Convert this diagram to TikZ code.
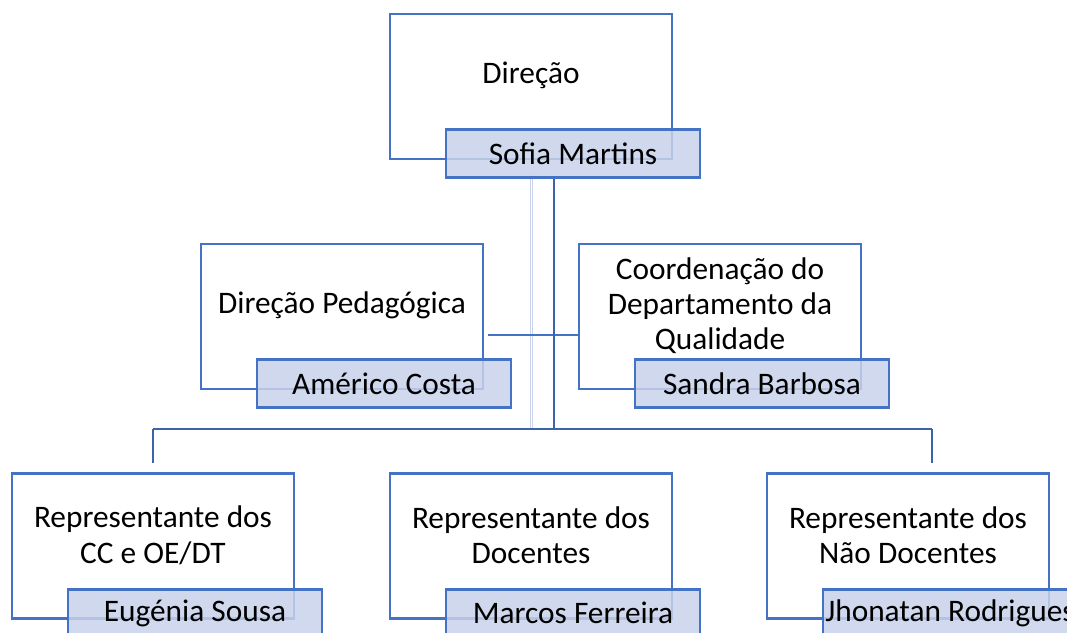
\documentclass[tikz,border=0pt]{standalone}
\usepackage{fontspec}
\setmainfont{Carlito}
\usetikzlibrary{positioning}
\definecolor{orgblue}{HTML}{4472C4}
\definecolor{linkblue}{HTML}{3C63AC}
\definecolor{namefill}{HTML}{C8D2EA}
\definecolor{ghostblue}{HTML}{C9D3EA}
\tikzstyle{rolebox}=[rectangle,draw=orgblue,line width=2pt,fill=white,minimum width=211.5pt,minimum height=108.75pt,inner sep=0]
\tikzstyle{roletext}=[align=center,inner sep=0]
\tikzstyle{namebox}=[rectangle,draw=orgblue,line width=2pt,fill=namefill,fill opacity=0.85,text opacity=1,minimum width=190.5pt,minimum height=36pt,inner sep=0,anchor=north west,xshift=42pt,yshift=24pt]
\tikzstyle{link}=[linkblue,line width=2pt]
\tikzstyle{thinlink}=[orgblue,line width=1.2pt]
\tikzstyle{ghost}=[ghostblue,double=white,line width=0.8pt,double distance=0.8pt]

\begin{document}
\begin{tikzpicture}[x=0.75pt,y=-0.75pt,font=\fontsize{23.5pt}{26.5pt}\selectfont]
\useasboundingbox (0,0) rectangle (1067,632);

% connectors
\coordinate (bustop) at (554,429);
\coordinate (busL) at (153,429);
\coordinate (busR) at (932,429);
\coordinate (dropL) at (153,463);
\coordinate (dropR) at (932,463);
\coordinate (asst) at (554,335);
\coordinate (ghostT) at (531.5,175);
\coordinate (ghostB) at (531.5,429);
\draw[ghost] (ghostT) -- (ghostB);

% boxes
\node[rolebox] (dir) at (531,86.5) {};
\node[rolebox] (ped) at (342,316.5) {};
\node[rolebox] (qual) at (720,316.5) {};
\node[rolebox] (repcc) at (153,546) {};
\node[rolebox] (doc) at (531,546) {};
\node[rolebox] (naodoc) at (908,546) {};

\draw[link] (busL) -- (busR);
\draw[link] (busL) -- (dropL);
\draw[link] (busR) -- (dropR);
\draw[thinlink] ([xshift=3pt]ped.east |- asst) -- (qual.west |- asst);

\node[roletext] (dirtext) at ([yshift=-47.25pt]dir.north) {Direção};
\node[roletext] (pedtext) at ([yshift=-47.25pt]ped.north) {Direção Pedagógica};
\node[roletext] (qualtext) at ([yshift=-47.25pt]qual.north) {Coordenação do\\Departamento da\\Qualidade};
\node[roletext] (repcctext) at ([yshift=-47.25pt]repcc.north) {Representante dos\\CC e OE/DT};
\node[roletext] (doctext) at ([yshift=-47.25pt]doc.north) {Representante dos\\Docentes};
\node[roletext] (naodoctext) at ([yshift=-47.25pt]naodoc.north) {Representante dos\\Não Docentes};

\node[namebox] (sofia) at (dir.south west) {Sofia Martins};
\node[namebox] (americo) at (ped.south west) {Américo Costa};
\node[namebox] (sandra) at (qual.south west) {Sandra Barbosa};
\node[namebox] (eugenia) at (repcc.south west) {Eugénia Sousa};
\node[namebox] (marcos) at (doc.south west) {Marcos Ferreira};
\node[namebox] (jhonatan) at (naodoc.south west) {Jhonatan Rodrigues};

\draw[link] (sofia.south -| bustop) -- (bustop);
\end{tikzpicture}
\end{document}
